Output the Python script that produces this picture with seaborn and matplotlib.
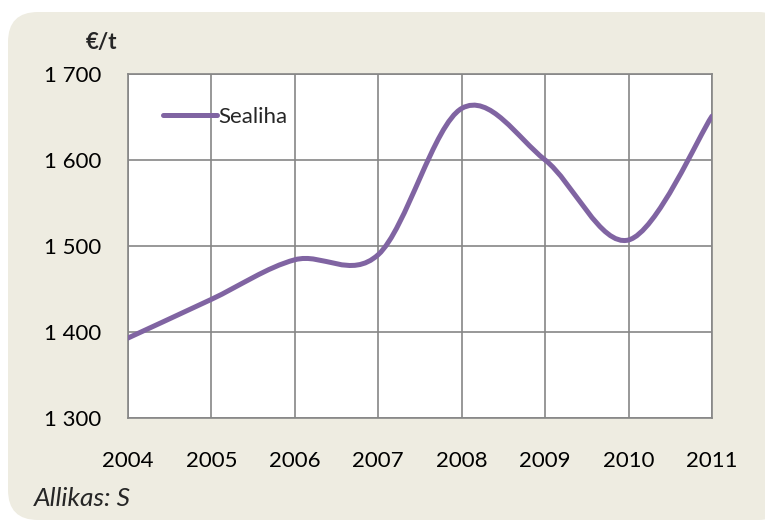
import numpy as np
import pandas as pd
import matplotlib
matplotlib.use("Agg")
import matplotlib.pyplot as plt
import seaborn as sns
from matplotlib.path import Path
from matplotlib.patches import PathPatch, FancyBboxPatch

# --- data ---
years = [2004, 2005, 2006, 2007, 2008, 2009, 2010, 2011]
price = [1393, 1438, 1484, 1490, 1660, 1600, 1507, 1651]
series_name = 'Sealiha'
y_ticks = [1300, 1400, 1500, 1600, 1700]
y_tick_labels = ['1 300', '1 400', '1 500', '1 600', '1 700']

LINE_COLOR = '#8064A2'
GRID_COLOR = '#868686'
BG_COLOR = '#EEECE1'
FS = 16


def smooth_path(xs, ys):
    """Excel-like smoothed line: Catmull-Rom segments as cubic Bezier curves."""
    pts = np.column_stack([xs, ys]).astype(float)
    n = len(pts)
    verts = [pts[0]]
    codes = [Path.MOVETO]
    for i in range(n - 1):
        p0 = pts[max(i - 1, 0)]
        p1 = pts[i]
        p2 = pts[i + 1]
        p3 = pts[min(i + 2, n - 1)]
        c1 = p1 + (p2 - p0) / 6.0
        c2 = p2 - (p3 - p1) / 6.0
        verts += [c1, c2, p2]
        codes += [Path.CURVE4] * 3
    return Path(verts, codes)


def main():
    df = pd.DataFrame({'year': years, 'price': price})

    sns.set_theme(style="white")
    plt.rcParams['font.family'] = ['Lato', 'DejaVu Sans']

    fig = plt.figure(figsize=(7.65, 5.23), dpi=100)
    fig.patch.set_facecolor('white')

    # beige rounded panel behind everything
    bg = FancyBboxPatch((0.08, 0.03), 7.8, 5.08,
                        boxstyle="round,pad=0,rounding_size=0.3",
                        transform=fig.dpi_scale_trans,
                        facecolor=BG_COLOR, edgecolor='none', zorder=-10)
    fig.patches.append(bg)

    ax = fig.add_axes([128 / 765, 1 - 418 / 523, 584 / 765, 344 / 523])
    ax.set_facecolor('white')

    sns.lineplot(data=df, x='year', y='price', ax=ax, color=LINE_COLOR,
                 linewidth=3.6, label=series_name, solid_capstyle='round')

    ax.set_xlim(2004, 2011)
    ax.set_ylim(1300, 1700)
    ax.set_xticks(years)
    ax.set_xticklabels([str(y) for y in years], fontsize=FS)
    ax.set_yticks(y_ticks)
    ax.set_yticklabels(y_tick_labels, fontsize=FS)
    ax.set_xlabel('')
    ax.set_ylabel('')

    ax.grid(True, color=GRID_COLOR, linewidth=1.2)
    ax.set_axisbelow(True)
    for s in ax.spines.values():
        s.set_color(GRID_COLOR)
        s.set_linewidth(1.2)
    ax.tick_params(axis='both', which='major', direction='out', length=6,
                   width=1.2, color=GRID_COLOR, labelcolor='black')
    ax.tick_params(axis='x', pad=18)
    ax.tick_params(axis='y', pad=13)

    ax.legend(loc='center left', bbox_to_anchor=(0.045, 0.875),
              frameon=False, handlelength=2.4, handletextpad=0.1,
              fontsize=FS, borderaxespad=0)

    # swap the straight polyline for a smoothed curve through the same points
    line = ax.lines[0]
    line.set_visible(False)
    patch = PathPatch(smooth_path(df['year'], df['price']), facecolor='none',
                      edgecolor=LINE_COLOR, linewidth=3.6, capstyle='round',
                      transform=ax.transData, zorder=3)
    ax.add_patch(patch)

    fig.text(101 / 765, 1 - 42 / 523, '€/t', ha='center', va='center',
             fontsize=FS, fontweight='bold')
    fig.text(34 / 765, 1 - 498 / 523, 'Allikas: S', ha='left', va='center',
             fontsize=19, fontstyle='italic')

    fig.savefig('out.png', dpi=100)


if __name__ == '__main__':
    main()
